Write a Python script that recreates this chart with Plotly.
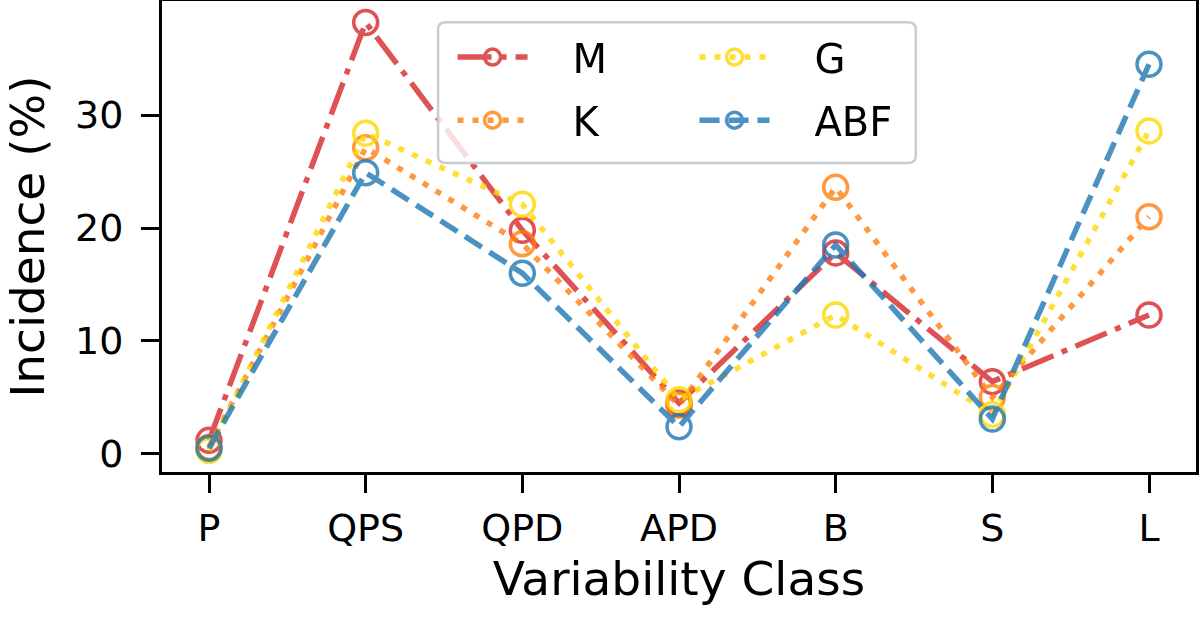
import plotly.graph_objects as go

classes = ["P", "QPS", "QPD", "APD", "B", "S", "L"]
m_vals = [1.2, 38.2, 19.8, 4.5, 17.8, 6.4, 12.3]
k_vals = [0.6, 27.1, 18.6, 4.3, 23.6, 5.0, 21.0]
g_vals = [0.3, 28.4, 22.1, 4.8, 12.3, 3.5, 28.6]
abf_vals = [0.5, 24.9, 16.0, 2.4, 18.5, 3.1, 34.5]

series = [
    ("M", m_vals, "#d62728", "34px,9px,6px,9px", "legend2"),
    ("K", k_vals, "#ff7f0e", "6px,9px", "legend3"),
    ("G", g_vals, "#ffd700", "6px,9px", "legend4"),
    ("ABF", abf_vals, "#1f77b4", "20px,9px", "legend5"),
]

FONT = "DejaVu Sans"
GAP = "\u2003"  # push legend text away from the symbol, like matplotlib

fig = go.Figure()
for name, vals, color, dash, leg in series:
    fig.add_trace(
        go.Scatter(
            x=list(range(len(classes))),
            y=vals,
            mode="lines+markers",
            name=GAP + name,
            opacity=0.8,
            line=dict(color=color, width=5.5, dash=dash),
            marker=dict(symbol="circle-open", size=24, color=color, line=dict(width=3.5, color=color)),
            legend=leg,
        )
    )

# legend frame (rounded box); one legend per entry so the 2x2 layout can be placed
fig.add_shape(
    type="path",
    xref="paper",
    yref="paper",
    path="M 0.275 0.955 L 0.721 0.955 Q 0.729 0.955 0.729 0.94 L 0.729 0.671 Q 0.729 0.656 0.721 0.656 "
    "L 0.275 0.656 Q 0.267 0.656 0.267 0.671 L 0.267 0.94 Q 0.267 0.955 0.275 0.955 Z",
    line=dict(color="#cccccc", width=2.5),
    fillcolor="rgba(255,255,255,0.8)",
    layer="above",
)

leg_common = dict(
    bgcolor="rgba(0,0,0,0)",
    borderwidth=0,
    font=dict(family=FONT, size=40, color="black"),
    itemwidth=70,
    xanchor="left",
    yanchor="middle",
)
fig.update_layout(
    showlegend=True,
    legend2=dict(x=0.281, y=0.881, **leg_common),
    legend3=dict(x=0.281, y=0.747, **leg_common),
    legend4=dict(x=0.515, y=0.881, **leg_common),
    legend5=dict(x=0.515, y=0.747, **leg_common),
)

axis_common = dict(
    ticks="outside",
    ticklen=18,
    tickwidth=3,
    tickcolor="black",
    showline=True,
    linecolor="black",
    linewidth=3,
    mirror=True,
    showgrid=False,
    zeroline=False,
    tickfont=dict(family=FONT, size=38, color="black"),
)
fig.update_xaxes(
    range=[-0.3, 6.3],
    tickmode="array",
    tickvals=list(range(len(classes))),
    ticktext=classes,
    ticklabelstandoff=2,
    title=dict(text="Variability Class", font=dict(family=FONT, size=47, color="black"), standoff=14),
    **axis_common,
)
fig.update_yaxes(
    range=[-1.6, 40.1],
    tickvals=[0, 10, 20, 30],
    ticklabelstandoff=10,
    title=dict(text="Incidence (%)", font=dict(family=FONT, size=47, color="black"), standoff=20),
    **axis_common,
)

fig.update_layout(
    width=1200,
    height=619,
    paper_bgcolor="white",
    plot_bgcolor="white",
    margin=dict(l=162, r=4, t=1, b=147, autoexpand=False),
)

fig.write_html(
    "out.html",
    config={"displayModeBar": False},
    post_script="document.body.style.margin = '0';",
)
